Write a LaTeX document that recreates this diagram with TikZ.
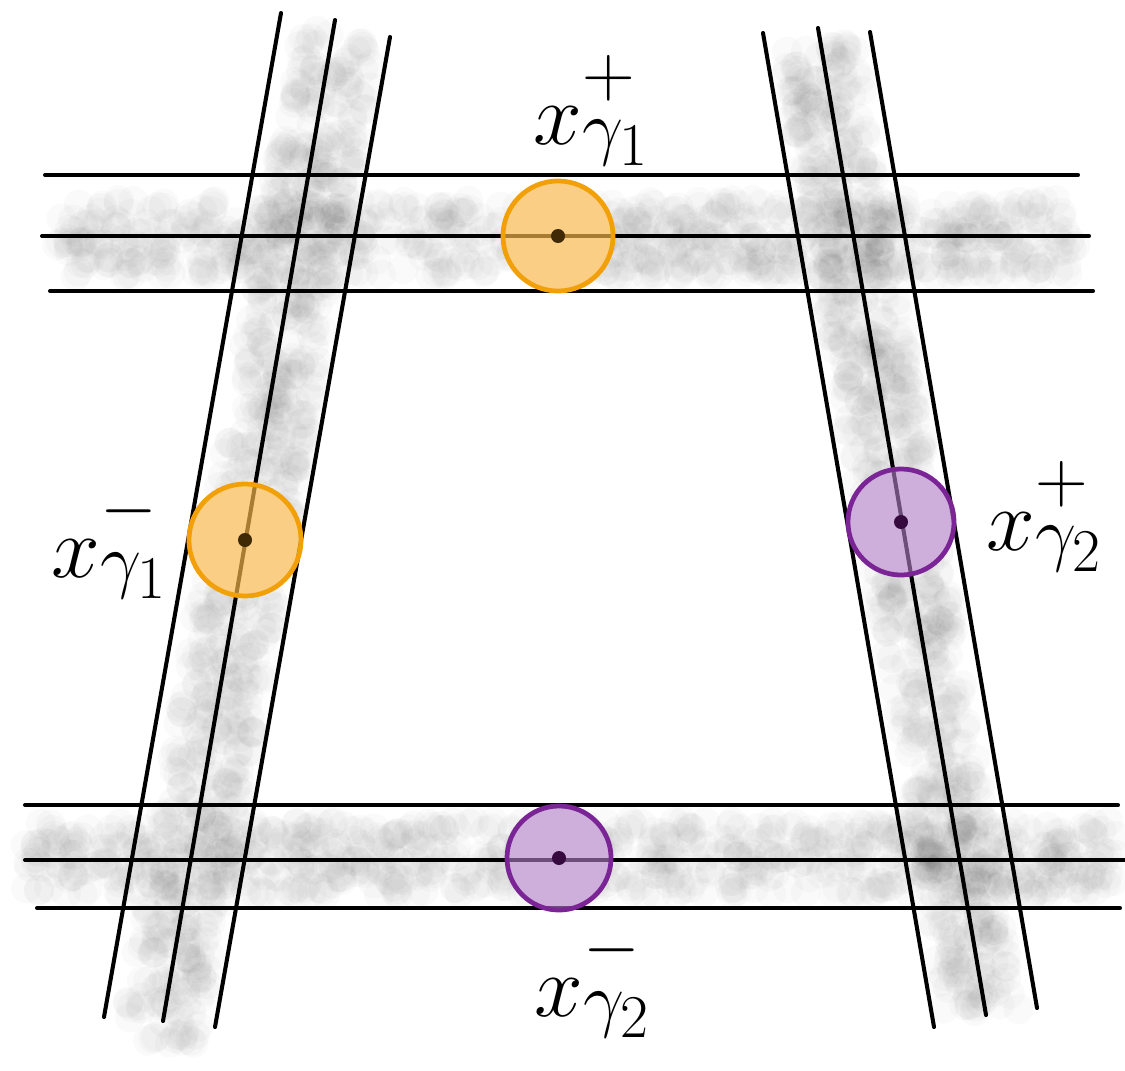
\documentclass[tikz,border=0pt]{standalone}
\usetikzlibrary{positioning, calc}
\definecolor{ringOrange}{HTML}{F2A007}
\definecolor{fillOrange}{HTML}{F8B84A}
\definecolor{ringPurple}{HTML}{7A2496}
\definecolor{fillPurple}{HTML}{B07FC6}
\definecolor{dotBrown}{HTML}{3F2A05}
\definecolor{dotPurple}{HTML}{36093F}

\tikzset{
  wire/.style={line width=1.15pt, line cap=round},
  smudge/.style={fill=black, opacity=0.02},
  disc/.style={circle, fill=white, minimum size=1.1cm, inner sep=0pt},
  orangering/.style={draw=ringOrange, line width=1.35pt, fill=fillOrange, fill opacity=0.68},
  purplering/.style={draw=ringPurple, line width=1.35pt, fill=fillPurple, fill opacity=0.62},
  tag/.style={font=\Huge, inner sep=1pt}
}

\begin{document}
\begin{tikzpicture}[x=0.01cm, y=-0.01cm]
    \useasboundingbox (0,0) rectangle (1125,1070);

    % centre lines of the grey bands
    \coordinate (t1) at (62,238);   \coordinate (t2) at (1070,238);
    \coordinate (b1) at (26,858);   \coordinate (b2) at (1114,858);
    \coordinate (l1) at (340,30);   \coordinate (l2) at (160,1040);
    \coordinate (r1) at (818,42);   \coordinate (r2) at (982,1014);

    \pgfmathsetseed{17}
    \foreach \s/\e/\u/\v in {t1/t2/6/38, b1/b2/6/37, l1/l2/40/6, r1/r2/38/6} {
      \foreach \i in {1,...,750} {
        \pgfmathsetmacro\t{rnd}
        \fill[smudge] ($(\s)!\t!(\e) + ({rand*\u},{rand*\v})$) circle (1.5mm);
      }
    }

    \node[disc] (g1p) at (558,236) {};
    \node[disc] (g1m) at (245,540) {};
    \node[disc, minimum size=1.06cm] (g2p) at (901,522) {};
    \node[disc, minimum size=1.06cm] (g2m) at (559,858) {};

    % three lines per band
    \draw[wire] (45,175) -- (1078,175);
    \draw[wire] (42,236) -- (1089,236);
    \draw[wire] (50,291) -- (1093,291);

    \draw[wire] (25,805) -- (1118,805);
    \draw[wire] (25,860) -- (1125,860);
    \draw[wire] (37,908) -- (1120,908);

    \draw[wire] (281,13) -- (104,1017);
    \draw[wire] (335,20) -- (163,1021);
    \draw[wire] (390,37) -- (215,1027);

    \draw[wire] (763,33) -- (934,1027);
    \draw[wire] (818,28) -- (986,1015);
    \draw[wire] (870,32) -- (1037,1008);

    \filldraw[orangering] (g1p.center) circle (5.5mm);
    \filldraw[orangering] (g1m.center) circle (5.6mm);
    \filldraw[purplering] (g2p.center) circle (5.3mm);
    \filldraw[purplering] (g2m.center) circle (5.2mm);

    \fill[dotBrown]  (g1p.center) circle (0.7mm);
    \fill[dotBrown]  (g1m.center) circle (0.7mm);
    \fill[dotPurple] (g2p.center) circle (0.7mm);
    \fill[dotPurple] (g2m.center) circle (0.7mm);

    \node[tag] (lg1p) at (592,104)  {$x^{+\mathstrut}_{\gamma_1}$};
    \node[tag] (lg1m) at (110,537)  {$x^{-\mathstrut}_{\gamma_1}$};
    \node[tag] (lg2p) at (1045,510) {$x^{+\mathstrut}_{\gamma_2}$};
    \node[tag] (lg2m) at (593,976)  {$x^{-\mathstrut}_{\gamma_2}$};
  \end{tikzpicture}
\end{document}
